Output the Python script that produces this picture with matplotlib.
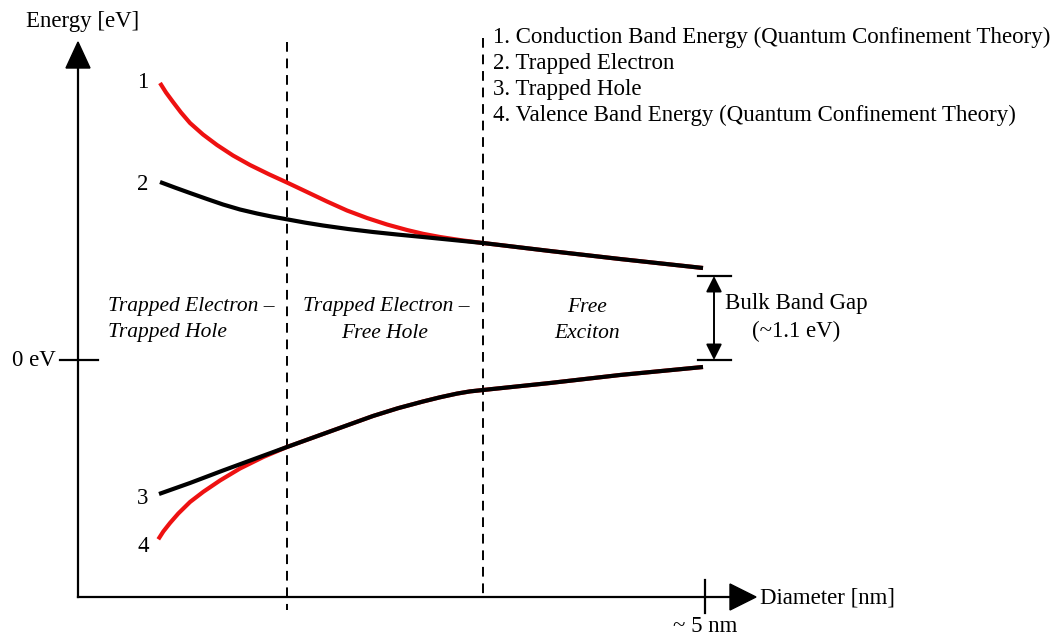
import matplotlib
matplotlib.use("Agg")
import numpy as np
import matplotlib.pyplot as plt

plt.rcParams["font.family"] = ["Liberation Serif", "DejaVu Serif"]

# schematic coordinates (picture units, y grows downward)
conduction_x = [160, 166, 173, 181, 190, 203, 217, 233, 250, 269, 288, 307,
                327, 347, 367, 387, 407, 423, 440, 461, 483, 550, 620, 703]
conduction_y = [83, 92.5, 102, 112.5, 123, 134.5, 145, 155.5, 165, 174.3, 183,
                192, 201.5, 210.5, 218, 224.5, 230, 233.8, 237, 240.2, 243,
                251, 259, 268]

electron_x = [160, 175, 190, 207, 223, 240, 257, 272, 288, 305, 323, 348,
              373, 398, 423, 453, 483, 550, 620, 703]
electron_y = [182, 187.6, 193, 199, 204.5, 209.5, 213.5, 216.6, 219.5, 222.6,
              225.5, 229, 232, 234.6, 237, 240, 243, 251, 259, 268]

hole_x = [159, 190, 223, 257, 287, 323, 348, 373, 398, 423, 440, 457, 470,
          483, 550, 620, 703]
hole_y = [494, 483, 470.5, 458, 447, 434, 425, 416, 408.2, 401.5, 397.3,
          393.6, 391.4, 390, 383, 375, 367]

valence_x = [158.3, 163.3, 170, 178.3, 190, 203.3, 220, 240, 263.3, 287, 323,
             348, 373, 398, 423, 440, 457, 470, 483, 550, 620, 703]
valence_y = [539.3, 531.5, 523, 513.5, 502, 491.8, 480.5, 468.5, 457, 447,
             434, 425, 416, 408.2, 401.5, 397.3, 393.6, 391.4, 390, 383,
             375, 367]

curve_labels = ["1", "2", "3", "4"]
label_y = [83, 184, 498, 546]

legend_items = [
    "1. Conduction Band Energy (Quantum Confinement Theory)",
    "2. Trapped Electron",
    "3. Trapped Hole",
    "4. Valence Band Energy (Quantum Confinement Theory)",
]

region_bounds = [287, 483]
gap_top, gap_bottom = 276, 360
zero_ev = 360
size_tick = 705

fig = plt.figure(figsize=(10.61, 6.37), dpi=100)
ax = fig.add_axes([0, 0, 1, 1])
ax.set_xlim(0, 1061)
ax.set_ylim(637, 0)
ax.axis("off")

# axes with arrow heads
ax.plot([78, 78], [597, 66], color="black", lw=1.6)
ax.plot([78, 732], [597, 597], color="black", lw=1.6)
ax.fill([66, 90, 78], [68, 68, 42], color="black")
ax.fill([730, 730, 756], [584, 610, 597], color="black")

ax.text(83, 21, "Energy [eV]", fontsize=16.5, ha="center", va="center")
ax.text(760, 598, "Diameter [nm]", fontsize=16.5, ha="left", va="center")

# 0 eV tick
ax.plot([60, 98], [zero_ev, zero_ev], color="black", lw=1.6)
ax.text(56, zero_ev + 1, "0 eV", fontsize=16.5, ha="right", va="center")

# ~5 nm tick
ax.plot([size_tick, size_tick], [580, 613], color="black", lw=1.6)
ax.text(size_tick, 626, "~ 5 nm", fontsize=16.5, ha="center", va="center")

# region boundaries
ax.plot([region_bounds[0]] * 2, [42, 610], color="black", lw=1.4,
        linestyle=(0, (5, 3.5)))
ax.plot([region_bounds[1]] * 2, [38, 597], color="black", lw=1.4,
        linestyle=(0, (5, 3.5)))

# curves
style = dict(lw=3.0, solid_capstyle="butt", solid_joinstyle="round")
ax.plot(conduction_x, conduction_y, color="#ee1111", zorder=3, **style)
ax.plot(valence_x, valence_y, color="#ee1111", zorder=3, **style)
ax.plot(electron_x, electron_y, color="black", zorder=4, **style)
ax.plot(hole_x, hole_y, color="black", zorder=4, **style)

for lab, yy in zip(curve_labels, label_y):
    ax.text(143, yy, lab, fontsize=16.5, ha="center", va="center")

# legend block
for i, item in enumerate(legend_items):
    ax.text(493, 37 + i * 26.3, item, fontsize=16.5, ha="left", va="center")

# region names
reg = dict(fontsize=15.5, style="italic", va="center")
ax.text(108, 307, "Trapped Electron \u2013", ha="left", **reg)
ax.text(108, 333, "Trapped Hole", ha="left", **reg)
ax.text(303, 307, "Trapped Electron \u2013", ha="left", **reg)
ax.text(385, 333, "Free Hole", ha="center", **reg)
ax.text(587, 307, "Free", ha="center", **reg)
ax.text(587, 333, "Exciton", ha="center", **reg)

# bulk band gap marker
ax.plot([698, 731], [gap_top, gap_top], color="black", lw=1.6)
ax.plot([698, 731], [gap_bottom, gap_bottom], color="black", lw=1.6)
ax.annotate("", xy=(714, gap_top), xytext=(714, gap_bottom),
            arrowprops=dict(arrowstyle="<|-|>", color="black", lw=1.4,
                            mutation_scale=24, shrinkA=0, shrinkB=0))
ax.text(796, 303, "Bulk Band Gap", fontsize=16.5, ha="center", va="center")
ax.text(796, 331, "(~1.1 eV)", fontsize=16.5, ha="center", va="center")

fig.savefig("out.png", dpi=100)
